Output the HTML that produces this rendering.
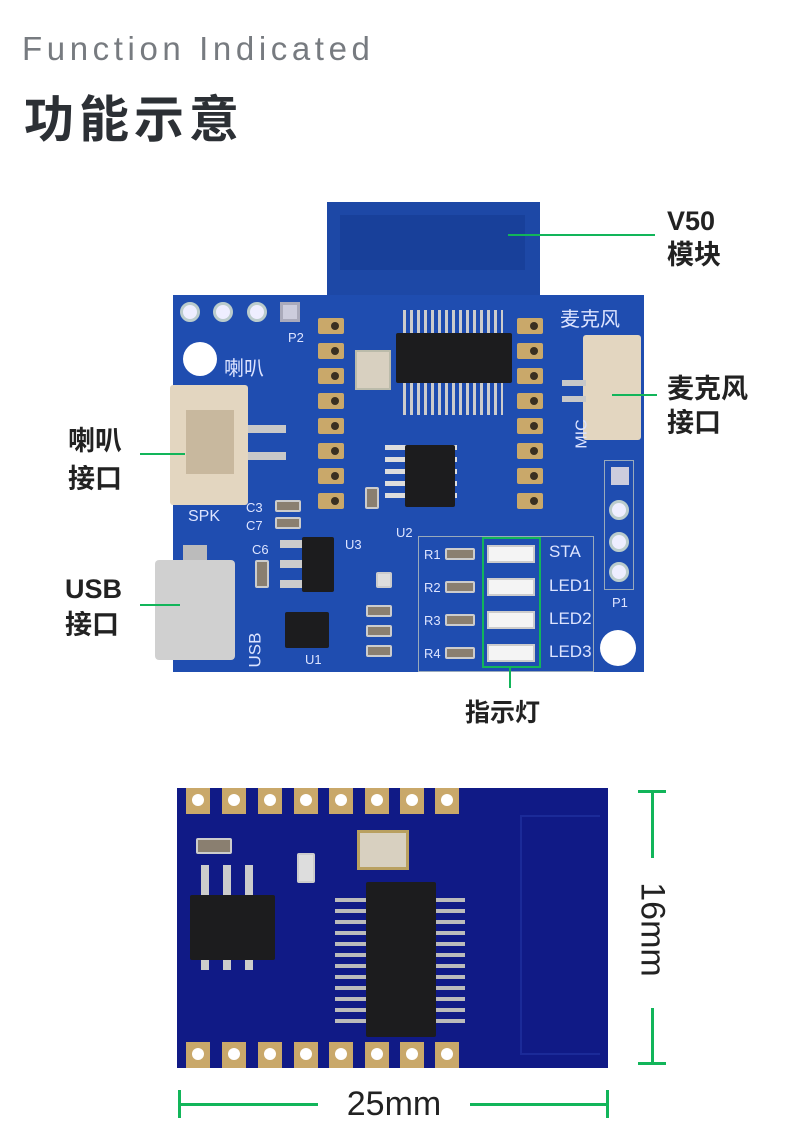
<!DOCTYPE html>
<html><head><meta charset="utf-8"><style>
*{margin:0;padding:0;box-sizing:border-box}
body{width:790px;height:1146px;background:#fff;position:relative;overflow:hidden;font-family:"Liberation Sans","Noto Sans CJK SC",sans-serif}
.a{position:absolute}
.g{background:#12b55a}
.lbl{position:absolute;font-size:27px;color:#222;font-weight:600;line-height:34px}
.pad{position:absolute;width:26px;height:16px;background:#c9a86a;border-radius:2px}
.pad::after{content:"";position:absolute;left:13px;top:4px;width:8px;height:8px;border-radius:50%;background:#3a2f20}
.hole{position:absolute;width:20px;height:20px;border-radius:50%;background:#eef;border:3px solid #bcc}
.chip{position:absolute;background:#1c1c1e;border-radius:2px}
.smd{position:absolute;background:#8a7f70;border:2px solid #ccc;border-radius:2px}
.t{position:absolute;color:#dde4ff;font-size:13px}
.u{position:absolute;width:24px;height:26px;background:#c9a86a}
.u::after{content:"";position:absolute;left:6px;top:6px;width:12px;height:12px;border-radius:50%;background:#fff}
.pin{position:absolute;width:12px;height:4px;background:#c8c8c8}
</style></head><body>
<div class="a" style="left:22px;top:30px;font-size:33px;letter-spacing:4.6px;color:#777b80">Function Indicated</div>
<div class="a" style="left:24px;top:80px;font-size:50px;font-weight:bold;letter-spacing:5px;color:#2c3035;font-family:'Noto Sans CJK SC',sans-serif">功能示意</div>

<!-- board 1 -->
<div class="a" style="left:327px;top:202px;width:213px;height:110px;background:#1d48a6"></div>
<div class="a" style="left:340px;top:215px;width:185px;height:55px;background:#18409a"></div>
<div class="a" style="left:173px;top:295px;width:471px;height:377px;background:#1f4db0"></div>
<div class="hole" style="left:180px;top:302px"></div><div class="hole" style="left:213px;top:302px"></div><div class="hole" style="left:247px;top:302px"></div>
<div class="a" style="left:280px;top:302px;width:20px;height:20px;background:#ccd;border:3px solid #aab"></div>
<div class="a" style="left:183px;top:342px;width:34px;height:34px;border-radius:50%;background:#fff"></div>
<div class="t" style="left:224px;top:352px;font-size:20px">喇叭</div>
<div class="t" style="left:288px;top:330px">P2</div>
<div class="t" style="left:560px;top:303px;font-size:20px">麦克风</div>
<div class="a" style="left:170px;top:385px;width:78px;height:120px;background:#e3d6c0;border-radius:3px"></div>
<div class="a" style="left:186px;top:410px;width:48px;height:64px;background:#c8b89e"></div>
<div class="pin" style="left:248px;top:425px;width:38px;height:8px"></div>
<div class="pin" style="left:248px;top:452px;width:38px;height:8px"></div>
<div class="t" style="left:188px;top:508px;font-size:16px">SPK</div>
<div class="a" style="left:583px;top:335px;width:58px;height:105px;background:#e3d6c0;border-radius:3px"></div>
<div class="pin" style="left:562px;top:380px;width:24px;height:6px"></div><div class="pin" style="left:562px;top:396px;width:24px;height:6px"></div>
<div class="t" style="left:568px;top:425px;transform:rotate(-90deg);font-size:16px">MIC</div>
<div class="a" style="left:604px;top:460px;width:30px;height:130px;border:1px solid #9ab"></div>
<div class="a" style="left:611px;top:467px;width:18px;height:18px;background:#ccd"></div>
<div class="hole" style="left:609px;top:500px"></div><div class="hole" style="left:609px;top:532px"></div><div class="hole" style="left:609px;top:562px"></div>
<div class="t" style="left:612px;top:595px">P1</div>
<div class="a" style="left:600px;top:630px;width:36px;height:36px;border-radius:50%;background:#fff"></div>
<div class="pad" style="left:318px;top:318px"></div><div class="pad" style="left:318px;top:343px"></div><div class="pad" style="left:318px;top:368px"></div><div class="pad" style="left:318px;top:393px"></div><div class="pad" style="left:318px;top:418px"></div><div class="pad" style="left:318px;top:443px"></div><div class="pad" style="left:318px;top:468px"></div><div class="pad" style="left:318px;top:493px"></div>
<div class="pad" style="left:517px;top:318px"></div><div class="pad" style="left:517px;top:343px"></div><div class="pad" style="left:517px;top:368px"></div><div class="pad" style="left:517px;top:393px"></div><div class="pad" style="left:517px;top:418px"></div><div class="pad" style="left:517px;top:443px"></div><div class="pad" style="left:517px;top:468px"></div><div class="pad" style="left:517px;top:493px"></div>
<div class="a" style="left:403px;top:310px;width:100px;height:105px;background:repeating-linear-gradient(90deg,#ccc 0 3px,transparent 3px 7px)"></div>
<div class="chip" style="left:396px;top:333px;width:116px;height:50px"></div>
<div class="a" style="left:355px;top:350px;width:36px;height:40px;background:#d8d0c0;border:2px solid #bba"></div>
<div class="a" style="left:385px;top:440px;width:72px;height:58px;background:repeating-linear-gradient(0deg,#ddd 0 5px,transparent 5px 12px)"></div>
<div class="chip" style="left:405px;top:445px;width:50px;height:62px"></div>
<div class="smd" style="left:365px;top:487px;width:14px;height:22px"></div>
<div class="t" style="left:396px;top:525px">U2</div>
<div class="t" style="left:246px;top:500px">C3</div><div class="t" style="left:246px;top:518px">C7</div>
<div class="smd" style="left:275px;top:500px;width:26px;height:12px"></div><div class="smd" style="left:275px;top:517px;width:26px;height:12px"></div>
<div class="t" style="left:252px;top:542px">C6</div>
<div class="smd" style="left:255px;top:560px;width:14px;height:28px"></div>
<div class="chip" style="left:302px;top:537px;width:32px;height:55px"></div>
<div class="a" style="left:280px;top:540px;width:22px;height:8px;background:#ccc"></div><div class="a" style="left:280px;top:560px;width:22px;height:8px;background:#ccc"></div><div class="a" style="left:280px;top:580px;width:22px;height:8px;background:#ccc"></div>
<div class="t" style="left:345px;top:537px">U3</div>
<div class="a" style="left:155px;top:560px;width:80px;height:100px;background:#d0d0d0;border-radius:4px"></div>
<div class="a" style="left:183px;top:545px;width:24px;height:15px;background:#bbb"></div>
<div class="t" style="left:238px;top:640px;transform:rotate(-90deg);font-size:17px">USB</div>
<div class="chip" style="left:285px;top:612px;width:44px;height:36px"></div>
<div class="t" style="left:305px;top:652px">U1</div>
<div class="smd" style="left:366px;top:605px;width:26px;height:12px"></div><div class="smd" style="left:366px;top:625px;width:26px;height:12px"></div><div class="smd" style="left:366px;top:645px;width:26px;height:12px"></div>
<div class="smd" style="left:376px;top:572px;width:16px;height:16px;background:#ddd"></div>
<div class="a" style="left:418px;top:536px;width:176px;height:136px;border:1px solid #9ab"></div>
<div class="t" style="left:424px;top:547px">R1</div><div class="t" style="left:424px;top:580px">R2</div><div class="t" style="left:424px;top:613px">R3</div><div class="t" style="left:424px;top:646px">R4</div>
<div class="smd" style="left:445px;top:548px;width:30px;height:12px"></div><div class="smd" style="left:445px;top:581px;width:30px;height:12px"></div><div class="smd" style="left:445px;top:614px;width:30px;height:12px"></div><div class="smd" style="left:445px;top:647px;width:30px;height:12px"></div>
<div class="a" style="left:487px;top:545px;width:48px;height:18px;background:#f4f4f4;border:2px solid #ccc"></div>
<div class="a" style="left:487px;top:578px;width:48px;height:18px;background:#f4f4f4;border:2px solid #ccc"></div>
<div class="a" style="left:487px;top:611px;width:48px;height:18px;background:#f4f4f4;border:2px solid #ccc"></div>
<div class="a" style="left:487px;top:644px;width:48px;height:18px;background:#f4f4f4;border:2px solid #ccc"></div>
<div class="a" style="left:482px;top:537px;width:59px;height:131px;border:2px solid #12b55a"></div>
<div class="t" style="left:549px;top:542px;font-size:17px">STA</div><div class="t" style="left:549px;top:576px;font-size:17px">LED1</div><div class="t" style="left:549px;top:609px;font-size:17px">LED2</div><div class="t" style="left:549px;top:642px;font-size:17px">LED3</div>

<div class="a g" style="left:508px;top:234px;width:147px;height:2px"></div>
<div class="lbl" style="left:667px;top:204px">V50</div><div class="lbl" style="left:667px;top:238px">模块</div>
<div class="a g" style="left:612px;top:394px;width:45px;height:2px"></div>
<div class="lbl" style="left:667px;top:372px">麦克风</div><div class="lbl" style="left:667px;top:406px">接口</div>
<div class="a g" style="left:140px;top:453px;width:45px;height:2px"></div>
<div class="lbl" style="left:68px;top:424px">喇叭</div><div class="lbl" style="left:68px;top:462px">接口</div>
<div class="a g" style="left:140px;top:604px;width:40px;height:2px"></div>
<div class="lbl" style="left:65px;top:572px">USB</div><div class="lbl" style="left:65px;top:608px">接口</div>
<div class="a g" style="left:509px;top:668px;width:2px;height:20px"></div>
<div class="lbl" style="left:465px;top:696px;font-size:25px">指示灯</div>

<!-- board 2 -->
<div class="a" style="left:177px;top:788px;width:431px;height:280px;background:#101a86"></div>
<div class="a" style="left:520px;top:815px;width:80px;height:240px;border:2px solid #1b2a98;border-right:none"></div>
<div class="u" style="left:186px;top:788px"></div><div class="u" style="left:222px;top:788px"></div><div class="u" style="left:258px;top:788px"></div><div class="u" style="left:294px;top:788px"></div><div class="u" style="left:329px;top:788px"></div><div class="u" style="left:365px;top:788px"></div><div class="u" style="left:400px;top:788px"></div><div class="u" style="left:435px;top:788px"></div>
<div class="u" style="left:186px;top:1042px"></div><div class="u" style="left:222px;top:1042px"></div><div class="u" style="left:258px;top:1042px"></div><div class="u" style="left:294px;top:1042px"></div><div class="u" style="left:329px;top:1042px"></div><div class="u" style="left:365px;top:1042px"></div><div class="u" style="left:400px;top:1042px"></div><div class="u" style="left:435px;top:1042px"></div>
<div class="a" style="left:201px;top:865px;width:60px;height:105px;background:repeating-linear-gradient(90deg,#ccc 0 8px,transparent 8px 22px)"></div>
<div class="chip" style="left:190px;top:895px;width:85px;height:65px"></div>
<div class="a" style="left:335px;top:893px;width:130px;height:130px;background:repeating-linear-gradient(0deg,#bbb 0 4px,transparent 4px 11px)"></div>
<div class="chip" style="left:366px;top:882px;width:70px;height:155px"></div>
<div class="a" style="left:357px;top:830px;width:52px;height:40px;background:#d8d0c0;border:3px solid #b9a060"></div>
<div class="smd" style="left:196px;top:838px;width:36px;height:16px"></div>
<div class="smd" style="left:297px;top:853px;width:18px;height:30px;background:#ddd"></div>

<div class="a g" style="left:651px;top:790px;width:3px;height:68px"></div>
<div class="a g" style="left:638px;top:790px;width:28px;height:3px"></div>
<div class="a g" style="left:651px;top:1008px;width:3px;height:56px"></div>
<div class="a g" style="left:638px;top:1062px;width:28px;height:3px"></div>
<div class="a" style="left:602px;top:910px;width:100px;font-size:34px;color:#222;text-align:center;transform:rotate(90deg)">16mm</div>
<div class="a g" style="left:178px;top:1103px;width:140px;height:3px"></div>
<div class="a g" style="left:178px;top:1090px;width:3px;height:28px"></div>
<div class="a g" style="left:470px;top:1103px;width:138px;height:3px"></div>
<div class="a g" style="left:606px;top:1090px;width:3px;height:28px"></div>
<div class="a" style="left:330px;top:1085px;width:128px;font-size:34px;color:#222;text-align:center">25mm</div>
</body></html>
